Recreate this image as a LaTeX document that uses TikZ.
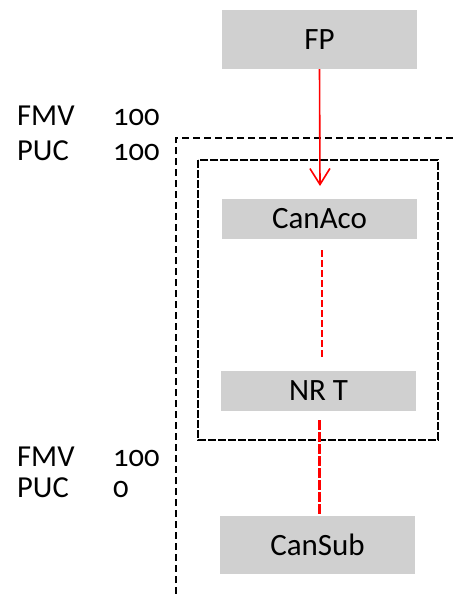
\documentclass[tikz,border=0pt]{standalone}
\usepackage{fontspec}
\setmainfont{Carlito}
\newfontfamily\onumfont[Numbers=OldStyle]{Carlito}
\usetikzlibrary{arrows.meta}
\definecolor{boxgray}{RGB}{208,208,208}
\definecolor{lred}{RGB}{255,0,0}
\begin{document}
\begin{tikzpicture}[x=1pt,y=-1pt,
  gbox/.style={fill=boxgray,draw=none,minimum width=195pt,inner sep=0pt,font=\fontsize{31}{34}\selectfont},
  lbl/.style={anchor=base west,inner sep=0pt,font=\fontsize{30.5}{33}\selectfont},
  num/.style={anchor=base west,inner sep=0pt,font=\fontsize{30.5}{33}\onumfont},
  outerdash/.style={draw=black,line width=2pt,dash pattern=on 7pt off 4pt},
  innerdash/.style={draw=black,line width=2.5pt,dash pattern=on 8pt off 2pt},
  redarrow/.style={draw=lred,line width=1.6pt,-{Straight Barb[length=16pt,width=20pt,line width=1.6pt]}},
  thinred/.style={draw=lred,line width=2pt,dash pattern=on 7pt off 3pt},
  thickred/.style={draw=lred,line width=3pt,dash pattern=on 10pt off 2pt}
]
\useasboundingbox (0,0) rectangle (457,594);
% boxes
\node[gbox,minimum height=59pt] (FP) at (319.5,39.5) {FP};
\node[gbox,minimum height=40pt] (CanAco) at (319.5,219) {CanAco};
\node[gbox,minimum height=40pt] (NRT) at (318.5,391) {NR T};
\node[gbox,minimum height=58pt] (CanSub) at (317.5,545) {CanSub};
% dashed frames
\coordinate (oBL) at (176,594);
\coordinate (oTL) at (176,138);
\coordinate (oTR) at (457,138);
\draw[outerdash] (oBL) -- (oTL) -- (oTR);
\coordinate (iTL) at (198,160);
\coordinate (iBR) at (438,440);
\draw[innerdash] (iTL) rectangle (iBR);
% connectors
\coordinate (arrEnd) at (320,186);
\draw[redarrow] (FP.south) -- (arrEnd);
\coordinate (t1) at (322,250);
\coordinate (t2) at (322,357);
\draw[thinred] (t1) -- (t2);
\coordinate (k1) at (319,420);
\draw[thickred] (k1) -- (k1 |- CanSub.north);
% labels
\node[lbl] (fmv1) at (17,125) {FMV};
\node[num] (fmv1v) at (113,125) {100};
\node[lbl] (puc1) at (17,160) {PUC};
\node[num] (puc1v) at (113,160) {100};
\node[lbl] (fmv2) at (17,466) {FMV};
\node[num] (fmv2v) at (113,466) {100};
\node[lbl] (puc2) at (17,497) {PUC};
\node[num] (puc2v) at (113,497) {0};
\end{tikzpicture}
\end{document}
